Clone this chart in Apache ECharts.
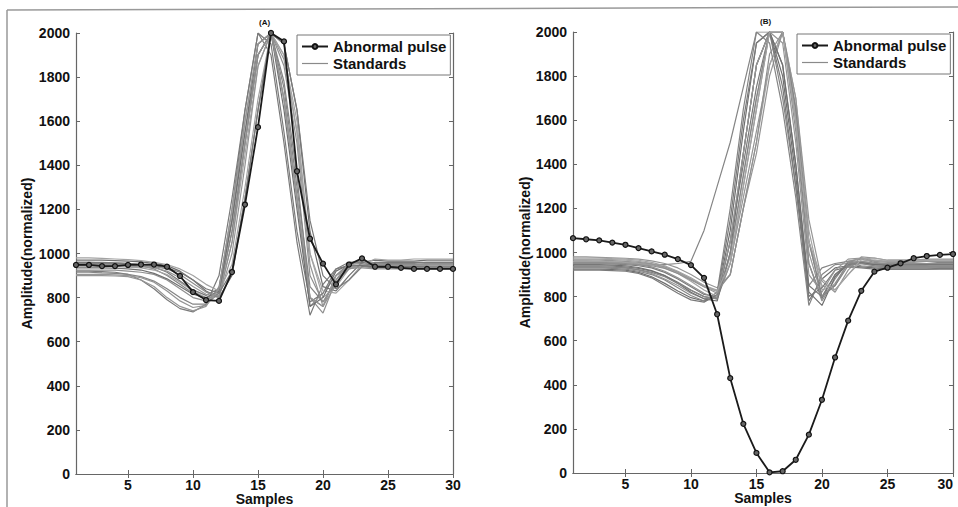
<!DOCTYPE html>
<html>
<head>
<meta charset="utf-8">
<script src="https://cdn.jsdelivr.net/npm/echarts@6/dist/echarts.min.js"></script>
<style>
html,body{margin:0;padding:0;background:#fff;}
#chart{width:958px;height:507px;}
</style>
</head>
<body>
<div id="chart"></div>
<script>
// ---- data ----
const samples = Array.from({length: 30}, (_, i) => i + 1);
const xTickLabels = [5, 10, 15, 20, 25, 30];
const yTickInterval = 200;
const panelTitles = ['(A)', '(B)'];

const abnormalA = [948,948,943,943,948,950,950,940,898,825,789,785,916,1222,1573,2000,1962,1373,1067,954,860,950,978,940,940,935,930,930,930,930];
const abnormalB = [1065,1060,1055,1045,1035,1020,1005,990,970,943,885,720,430,223,91,3,8,60,174,332,524,691,826,913,931,951,974,984,989,993];

const standardsA = [
  [920,920,918,915,905,880,840,790,750,735,770,900,1250,1650,2000,1900,1500,1050,720,860,930,945,945,940,940,940,940,945,945,945],
  [900,900,900,898,895,880,850,800,760,740,760,850,1150,1550,1900,2000,1700,1250,760,820,900,940,945,945,945,945,945,945,950,950],
  [955,955,955,955,950,945,930,900,860,820,790,820,1100,1500,1900,2000,1780,1350,800,760,900,955,960,955,955,955,955,960,960,960],
  [940,940,940,940,938,935,925,905,870,830,800,810,1050,1450,1850,2000,1900,1600,1000,800,850,930,950,950,945,945,945,945,945,945],
  [970,970,970,968,965,962,955,945,920,880,830,800,900,1250,1650,2000,1950,1650,1100,850,830,900,960,970,965,965,965,970,970,970],
  [925,925,925,925,920,915,905,880,840,800,785,830,1150,1600,1950,2000,1700,1250,800,730,880,940,945,940,935,935,935,935,935,935],
  [960,960,960,958,955,950,940,915,875,835,810,840,1200,1650,2000,1950,1550,1100,780,820,930,960,955,950,950,950,950,950,955,955],
  [945,945,945,945,943,940,935,920,890,850,815,800,1000,1400,1850,2000,1880,1550,950,760,860,940,950,950,950,950,950,950,950,950],
  [915,915,912,910,905,895,875,840,800,770,770,820,1100,1500,1900,2000,1750,1300,850,780,870,930,940,935,935,935,935,935,935,935],
  [980,980,978,975,972,968,960,950,930,900,860,830,950,1300,1700,2000,1900,1550,1000,830,820,880,950,975,970,970,975,975,975,975],
  [935,935,935,933,930,925,910,885,850,815,800,830,1150,1550,1950,2000,1650,1200,760,800,920,950,945,940,940,940,940,940,940,940],
  [950,950,950,950,948,945,940,930,905,865,825,805,1050,1500,1900,2000,1850,1500,900,780,880,960,965,955,950,950,950,955,955,955],
  [960,960,958,956,954,950,945,935,915,880,840,820,920,1250,1650,2000,1950,1650,1150,900,840,880,940,960,960,960,960,960,960,960],
  [905,905,905,903,900,890,870,830,785,755,765,840,1200,1600,1950,2000,1700,1250,800,760,900,935,935,930,930,930,930,930,930,930]
];

const standardsB = [
  [950,950,950,948,945,940,930,910,880,845,810,800,1050,1400,1750,2000,2000,1600,950,790,900,950,960,950,945,945,945,945,950,950],
  [935,935,935,933,930,920,905,880,850,815,790,800,950,1250,1550,1850,2000,1650,1000,800,850,955,950,940,935,935,935,935,935,935],
  [960,960,958,956,954,950,945,945,950,960,1100,1300,1500,1750,2000,2000,1700,1300,850,930,950,960,955,950,950,950,950,950,955,955],
  [970,970,970,968,965,960,950,935,910,880,850,830,900,1200,1500,1850,2000,1700,1100,830,850,960,975,965,960,960,960,965,965,965],
  [925,925,925,923,920,910,890,860,825,795,780,800,1100,1550,1950,2000,1800,1350,780,880,930,940,935,930,925,925,925,925,925,925],
  [955,955,955,953,950,945,935,915,885,850,815,790,950,1300,1650,2000,2000,1550,950,780,880,960,970,955,950,950,950,950,950,950],
  [940,940,940,938,935,928,915,895,865,830,800,790,1050,1450,1850,2000,1850,1400,850,800,900,945,950,945,940,940,940,940,940,940],
  [980,980,978,976,974,970,962,950,930,900,865,840,900,1200,1450,1800,2000,1700,1150,870,820,920,980,975,965,965,965,970,970,970],
  [930,930,930,928,925,915,900,875,840,805,780,820,1200,1650,2000,1950,1650,1250,760,900,945,950,940,935,930,930,930,930,930,930],
  [960,960,960,958,955,950,945,930,905,870,830,800,980,1350,1700,2000,2000,1600,1050,850,830,900,960,965,960,960,960,960,960,960],
  [945,945,945,943,940,932,918,895,860,820,790,780,1000,1450,1850,2000,1850,1400,820,760,890,950,955,945,945,945,945,945,945,945],
  [950,950,950,950,948,945,940,928,905,875,845,825,900,1200,1500,1900,2000,1650,1050,800,860,950,960,950,948,948,948,950,950,950],
  [920,920,920,918,915,905,885,850,815,785,775,810,1150,1600,1950,2000,1750,1300,800,840,920,935,930,925,925,925,925,925,928,928],
  [965,965,965,963,960,955,948,935,912,880,845,815,1050,1450,1850,2000,1950,1500,900,820,920,970,975,960,955,955,955,960,960,960],
  [935,935,935,933,930,922,910,890,860,828,800,790,1000,1350,1700,2000,2000,1650,1050,800,850,940,950,940,935,935,935,935,935,935],
  [975,975,975,972,970,965,955,940,915,885,850,825,950,1300,1650,2000,2000,1600,1050,880,830,900,970,975,965,965,965,965,968,968]
];

// ---- chart ----
const FONT = '"Liberation Sans", Arial, sans-serif';
const TXT = '#111';
const AX = '#666';
const grays = ['#7a7a7a', '#959595', '#858585', '#a3a3a3', '#6f6f6f', '#8f8f8f'];

const grids = [
  {left: 76, top: 33, width: 377, height: 441, outerBoundsMode: 'none', containLabel: false},
  {left: 573, top: 32, width: 380, height: 441, outerBoundsMode: 'none', containLabel: false}
];

function pairs(arr) { return arr.map((v, i) => [samples[i], v]); }

const xAxes = [], yAxes = [];
grids.forEach((g, gi) => {
  xAxes.push({
    gridIndex: gi, type: 'value', min: 1, max: 30, position: 'bottom',
    name: 'Samples', nameLocation: 'middle', nameGap: 18, nameMoveOverlap: false,
    nameTextStyle: {fontFamily: FONT, fontWeight: 'bold', fontSize: 14, color: TXT, verticalAlign: 'top', lineHeight: 14},
    axisLine: {show: true, lineStyle: {color: AX, width: 1.2}},
    axisTick: {show: true, inside: true, length: 4, customValues: xTickLabels, lineStyle: {color: AX}},
    axisLabel: {show: true, customValues: xTickLabels, margin: 4, lineHeight: 13, alignMaxLabel: gi === 1 ? 'right' : 'center',
      fontFamily: FONT, fontWeight: 'bold', fontSize: 14, color: TXT},
    splitLine: {show: false}
  });
  xAxes.push({
    gridIndex: gi, type: 'value', min: 1, max: 30, position: 'top',
    axisLine: {show: true, lineStyle: {color: AX, width: 1.2}},
    axisTick: {show: true, inside: true, length: 4, customValues: xTickLabels, lineStyle: {color: AX}},
    axisLabel: {show: false},
    splitLine: {show: false}
  });
  yAxes.push({
    gridIndex: gi, type: 'value', min: 0, max: 2000, interval: yTickInterval, position: 'left',
    name: 'Amplitude(normalized)', nameLocation: 'middle', nameGap: gi === 0 ? 42 : 40,
    nameTextStyle: {fontFamily: FONT, fontWeight: 'bold', fontSize: 14, color: TXT},
    axisLine: {show: true, lineStyle: {color: AX, width: 1.2}},
    axisTick: {show: true, inside: true, length: 4, lineStyle: {color: AX}},
    axisLabel: {margin: 6, formatter: v => String(v), fontFamily: FONT, fontWeight: 'bold', fontSize: 14, color: TXT},
    splitLine: {show: false}
  });
  yAxes.push({
    gridIndex: gi, type: 'value', min: 0, max: 2000, interval: yTickInterval, position: 'right',
    axisLine: {show: true, lineStyle: {color: AX, width: 1.2}},
    axisTick: {show: true, inside: true, length: 4, lineStyle: {color: AX}},
    axisLabel: {show: false},
    splitLine: {show: false}
  });
});

const series = [];
[standardsA, standardsB].forEach((set, gi) => {
  set.forEach((row, k) => {
    series.push({
      name: 'Standards', type: 'line', xAxisIndex: gi * 2, yAxisIndex: gi * 2,
      data: pairs(row), symbol: 'none', silent: true, animation: false,
      lineStyle: {color: grays[k % grays.length], width: 1.2},
      itemStyle: {color: '#8a8a8a'}
    });
  });
});
[abnormalA, abnormalB].forEach((arr, gi) => {
  series.push({
    name: 'Abnormal pulse', type: 'line', xAxisIndex: gi * 2, yAxisIndex: gi * 2,
    data: pairs(arr), symbol: 'circle', symbolSize: 5, animation: false, z: 5,
    lineStyle: {color: '#1a1a1a', width: 1.8},
    itemStyle: {color: '#666', borderColor: '#111', borderWidth: 1.2}
  });
});

function legendAt(left, top) {
  return {
    left: left, top: top, orient: 'vertical', itemGap: 2,
    itemWidth: 26, itemHeight: 6,
    data: [
      {name: 'Abnormal pulse'},
      {name: 'Standards', itemStyle: {opacity: 0}, lineStyle: {color: '#8a8a8a', width: 1.2}}
    ],
    backgroundColor: '#fff', borderColor: '#777', borderWidth: 1,
    padding: [4, 4, 4, 4], selectedMode: false,
    textStyle: {fontFamily: FONT, fontWeight: 'bold', fontSize: 15, color: TXT}
  };
}

const option = {
  backgroundColor: '#fff',
  animation: false,
  title: [
    {text: panelTitles[0], left: 254, top: 13, textStyle: {fontFamily: FONT, fontWeight: 'bold', fontSize: 8, color: TXT}},
    {text: panelTitles[1], left: 755, top: 12, textStyle: {fontFamily: FONT, fontWeight: 'bold', fontSize: 8, color: TXT}}
  ],
  grid: grids,
  xAxis: xAxes,
  yAxis: yAxes,
  legend: [legendAt(297, 35), legendAt(797, 34)],
  series: series,
  graphic: [
    {type: 'line', shape: {x1: 7, y1: 10, x2: 958, y2: 7}, style: {stroke: '#999', lineWidth: 1.5}, silent: true},
    {type: 'line', shape: {x1: 7, y1: 10, x2: 7, y2: 507}, style: {stroke: '#999', lineWidth: 1.5}, silent: true}
  ]
};

const chart = echarts.init(document.getElementById('chart'), null, {renderer: 'svg'});
chart.setOption(option);
</script>
</body>
</html>
